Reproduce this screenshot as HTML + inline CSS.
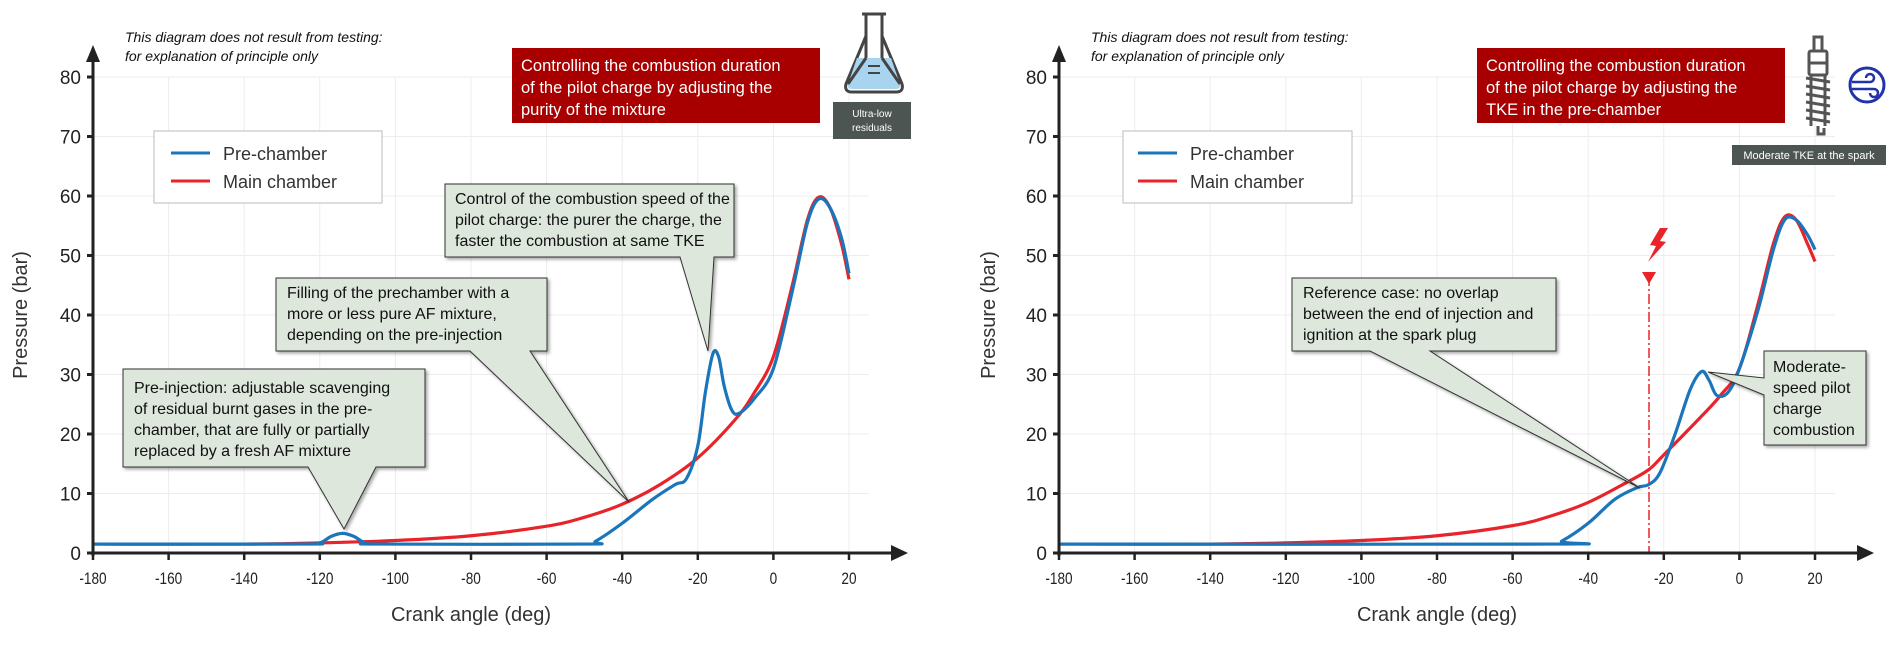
<!DOCTYPE html>
<html><head><meta charset="utf-8"><style>
html,body{margin:0;padding:0;background:#fff;width:1900px;height:659px;overflow:hidden}
svg{display:block}
.t{font-family:"Liberation Sans",sans-serif}
</style></head><body>
<svg id="s" width="1900" height="659" viewBox="0 0 1900 659" xmlns="http://www.w3.org/2000/svg">
<defs>
<filter id="sh" x="-10%" y="-10%" width="130%" height="130%"><feDropShadow dx="2" dy="2" stdDeviation="1.5" flood-color="#000" flood-opacity="0.35"/></filter>
</defs>
<g id="grid"></g>
<g id="curves"></g>

<!-- axis titles -->
<text class="t" x="27" y="315" font-size="20" fill="#333" text-anchor="middle" transform="rotate(-90 27 315)">Pressure (bar)</text>
<text class="t" x="995" y="315" font-size="20" fill="#333" text-anchor="middle" transform="rotate(-90 995 315)">Pressure (bar)</text>
<text class="t" x="471" y="621" font-size="20" fill="#333" text-anchor="middle">Crank angle (deg)</text>
<text class="t" x="1437" y="621" font-size="20" fill="#333" text-anchor="middle">Crank angle (deg)</text>

<!-- notes -->
<text class="t" x="125" y="42" font-size="14" font-style="italic" fill="#111">This diagram does not result from testing:</text>
<text class="t" x="125" y="61" font-size="14" font-style="italic" fill="#111">for explanation of principle only</text>
<text class="t" x="1091" y="42" font-size="14" font-style="italic" fill="#111">This diagram does not result from testing:</text>
<text class="t" x="1091" y="61" font-size="14" font-style="italic" fill="#111">for explanation of principle only</text>

<!-- red boxes -->
<rect x="512" y="48" width="308" height="75" fill="#a80000"/>
<text class="t" font-size="16.5" fill="#fff"><tspan x="521" y="71">Controlling the combustion duration</tspan><tspan x="521" y="93">of the pilot charge by adjusting the</tspan><tspan x="521" y="115">purity of the mixture</tspan></text>
<rect x="1477" y="48" width="308" height="75" fill="#a80000"/>
<text class="t" font-size="16.5" fill="#fff"><tspan x="1486" y="71">Controlling the combustion duration</tspan><tspan x="1486" y="93">of the pilot charge by adjusting the</tspan><tspan x="1486" y="115">TKE  in the pre-chamber</tspan></text>

<!-- flask icon -->
<g stroke="#444" stroke-width="3" fill="none">
<path d="M862 14 h24 M866 14 v22 L846 84 q-2 8 6 8 h44 q8 0 6-8 L882 36 V14"/>
</g>
<path d="M857 58 L891 58 L900 84 q1 5 -4 5 h-44 q-5 0 -4-5 Z" fill="#a8d4f0"/>
<path d="M866 36 L866 58 M882 36 L882 58" stroke="#444" stroke-width="3"/>
<path d="M866 58 L848 84 M882 58 L900 84" stroke="#444" stroke-width="3"/>
<path d="M868 66 h12 M868 73 h12" stroke="#444" stroke-width="2"/>
<rect x="833" y="102" width="78" height="37" fill="#4d5552"/>
<text class="t" x="872" y="117" font-size="10" fill="#fff" text-anchor="middle">Ultra-low</text>
<text class="t" x="872" y="131" font-size="10" fill="#fff" text-anchor="middle">residuals</text>

<!-- spark plug icon -->
<g stroke="#555" stroke-width="3" fill="none">
<rect x="1814" y="37" width="8" height="14"/>
<rect x="1809" y="51" width="18" height="24" rx="2"/>
<path d="M1809 63 h18"/>
<path d="M1806 78 l24 4 M1806 86 l24 4 M1806 94 l24 4 M1806 102 l24 4 M1806 110 l24 4 M1806 118 l24 4"/>
<path d="M1811 76 v50 M1825 76 v50 M1818 126 v8 h6 v-6"/>
</g>
<circle cx="1867" cy="85" r="17" fill="none" stroke="#2233aa" stroke-width="3"/>
<path d="M1852 82 h18 a4 4 0 1 0 -4 -4 M1852 89 h22 a4 4 0 1 1 -4 4" stroke="#2233aa" stroke-width="2.5" fill="none"/>
<rect x="1732" y="145" width="154" height="20" fill="#4d5552"/>
<text class="t" x="1809" y="159" font-size="11" fill="#fff" text-anchor="middle">Moderate TKE at the spark</text>

<!-- legends -->
<rect x="154" y="131" width="228" height="72" fill="#fff" stroke="#bbb"/>
<line x1="171" y1="153" x2="210" y2="153" stroke="#1a75bb" stroke-width="3"/>
<line x1="171" y1="181" x2="210" y2="181" stroke="#e8232a" stroke-width="3"/>
<text class="t" x="223" y="160" font-size="18" fill="#333">Pre-chamber</text>
<text class="t" x="223" y="188" font-size="18" fill="#333">Main chamber</text>
<rect x="1123" y="131" width="229" height="72" fill="#fff" stroke="#bbb"/>
<line x1="1138" y1="153" x2="1177" y2="153" stroke="#1a75bb" stroke-width="3"/>
<line x1="1138" y1="181" x2="1177" y2="181" stroke="#e8232a" stroke-width="3"/>
<text class="t" x="1190" y="160" font-size="18" fill="#333">Pre-chamber</text>
<text class="t" x="1190" y="188" font-size="18" fill="#333">Main chamber</text>

<!-- callouts -->
<g fill="#dde7dc" stroke="#333" stroke-width="1" filter="url(#sh)">
<path d="M445 184 H734 V257 H714 L708 351 L680 257 H445 Z"/>
<path d="M276 278 H547 V351 H530 L629 502 L470 351 H276 Z"/>
<path d="M123 369 H425 V467 H376 L344 529 L308 467 H123 Z"/>
<path d="M1292 278 H1556 V351 H1430 L1640 488 L1370 351 H1292 Z"/>
<path d="M1764 351 H1866 V445 H1764 V395 L1708 372 L1764 378 Z"/>
</g>
<g class="t" font-size="16" fill="#111">
<text><tspan x="455" y="204">Control of the combustion speed of the</tspan><tspan x="455" y="225">pilot charge: the purer the charge, the</tspan><tspan x="455" y="246">faster the combustion at same TKE</tspan></text>
<text><tspan x="287" y="298">Filling of the prechamber with a</tspan><tspan x="287" y="319">more or less pure AF mixture,</tspan><tspan x="287" y="340">depending on the pre-injection</tspan></text>
<text><tspan x="134" y="393">Pre-injection: adjustable scavenging</tspan><tspan x="134" y="414">of residual burnt gases in the pre-</tspan><tspan x="134" y="435">chamber, that are fully or partially</tspan><tspan x="134" y="456">replaced by a fresh AF mixture</tspan></text>
<text><tspan x="1303" y="298">Reference case: no overlap</tspan><tspan x="1303" y="319">between the end of injection and</tspan><tspan x="1303" y="340">ignition at the spark plug</tspan></text>
<text><tspan x="1773" y="372">Moderate-</tspan><tspan x="1773" y="393">speed pilot</tspan><tspan x="1773" y="414">charge</tspan><tspan x="1773" y="435">combustion</tspan></text>
</g>

<!-- spark marker -->
<line x1="1649" y1="276" x2="1649" y2="553" stroke="#e8232a" stroke-width="1.5" stroke-dasharray="10,3,2,3"/>
<path d="M1642 272 L1656 272 L1649 284 Z" fill="#e8232a"/>
<path d="M1660 228 L1650 245 L1656 246 L1648 262 L1666 242 L1660 241 L1668 228 Z" fill="#e8232a"/>

<g id="axes"></g>
</svg>
<script>
const NS="http://www.w3.org/2000/svg";
function el(p,t,a,txt){const e=document.createElementNS(NS,t);for(const k in a)e.setAttribute(k,a[k]);if(txt!==undefined)e.textContent=txt;p.appendChild(e);return e;}
const g=document.getElementById('grid'),ax=document.getElementById('axes'),cv=document.getElementById('curves');
const Y=v=>553-5.95*v;
function panel(x0){
 const X=v=>x0+(v+180)*3.78;
 for(let v=-160;v<=20;v+=20)el(g,'line',{x1:X(v),y1:Y(80),x2:X(v),y2:553,stroke:'#ececec'});
 for(let v=10;v<=80;v+=10)el(g,'line',{x1:x0,y1:Y(v),x2:X(20)+20,y2:Y(v),stroke:'#ececec'});
 el(ax,'line',{x1:x0,y1:556,x2:x0,y2:60,stroke:'#222','stroke-width':3});
 el(ax,'path',{d:`M${x0-7} 62 L${x0} 45 L${x0+7} 62 Z`,fill:'#222'});
 el(ax,'line',{x1:x0-4,y1:553,x2:x0+802,y2:553,stroke:'#222','stroke-width':3});
 el(ax,'path',{d:`M${x0+798} 545 L${x0+815} 553 L${x0+798} 561 Z`,fill:'#222'});
 for(let v=0;v<=80;v+=10){el(ax,'line',{x1:x0-6,y1:Y(v),x2:x0,y2:Y(v),stroke:'#222','stroke-width':3});
  el(ax,'text',{x:x0-12,y:Y(v)+7,'font-size':19,fill:'#222','text-anchor':'end','font-family':'Liberation Sans, sans-serif'},v);}
 for(let v=-180;v<=20;v+=20){el(ax,'line',{x1:X(v),y1:553,x2:X(v),y2:560,stroke:'#222','stroke-width':2.5});
  el(ax,'text',{x:X(v),y:584,'font-size':17,fill:'#222','text-anchor':'middle','font-family':'Liberation Sans, sans-serif',transform:`translate(${X(v)} 0) scale(0.8 1) translate(${-X(v)} 0)`},v);}
 return X;
}
function path(X,pts,col){
 const P=pts.map(p=>[X(p[0]),Y(p[1])]);let d=`M${P[0][0]} ${P[0][1]}`;
 for(let i=0;i<P.length-1;i++){const p0=P[Math.max(i-1,0)],p1=P[i],p2=P[i+1],p3=P[Math.min(i+2,P.length-1)];
  d+=` C${p1[0]+(p2[0]-p0[0])/6} ${p1[1]+(p2[1]-p0[1])/6} ${p2[0]-(p3[0]-p1[0])/6} ${p2[1]-(p3[1]-p1[1])/6} ${p2[0]} ${p2[1]}`;}
 el(cv,'path',{d,fill:'none',stroke:col,'stroke-width':3.2,'stroke-linejoin':'round'});
}
const XL=panel(93),XR=panel(1059);
const redL=[[-180,1.5],[-140,1.5],[-120,1.7],[-100,2.1],[-80,2.9],[-60,4.5],[-50,6],[-40,8.2],[-30,11.5],[-20,16],[-10,22.5],[-5,27],[0,33],[5,45],[9,56],[12,59.8],[15,58],[18,52],[20,46]];
const blueL=[[-180,1.5],[-125,1.5],[-120,1.7],[-117,2.8],[-114,3.3],[-111,2.8],[-108,1.7],[-104,1.5],[-50,1.5],[-47,2],[-40,5],[-32,9],[-26,11.5],[-23,12.5],[-20,18],[-18,27],[-16,33.5],[-14.5,33],[-13,28],[-11,24],[-9,23.5],[-5,26],[0,31],[5,44],[9,55.5],[12,59.5],[15,58],[18,53],[20,47]];
const redR=[[-180,1.5],[-140,1.5],[-120,1.7],[-100,2.1],[-80,2.9],[-60,4.6],[-50,6.2],[-40,8.5],[-30,11.8],[-24,14],[-20,16.5],[-10,23],[-5,26.5],[0,31],[5,42],[9,52],[12,56.5],[15,56],[18,52],[20,49]];
const blueR=[[-180,1.5],[-50,1.5],[-47,2],[-40,5],[-33,9],[-27,11],[-24,11.5],[-21,13.5],[-17,20],[-13,27.5],[-10,30.5],[-8,29],[-6,26.5],[-3,27],[0,31],[5,41],[9,51],[12,56],[15,56],[18,53.5],[20,51]];
path(XL,redL,'#e8232a');path(XL,blueL,'#1a75bb');
path(XR,redR,'#e8232a');path(XR,blueR,'#1a75bb');
</script>
</body></html>
